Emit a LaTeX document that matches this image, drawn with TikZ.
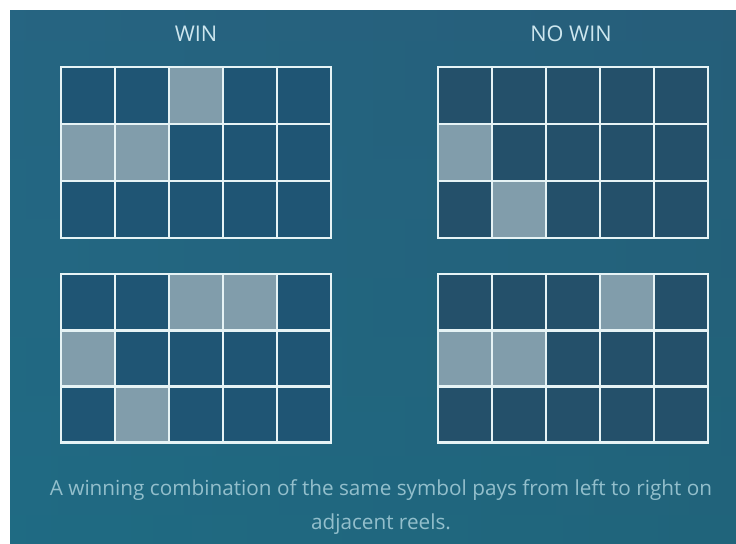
\documentclass[tikz,border=0pt]{standalone}
\usepackage{fontspec}
\setmainfont{Open Sans}
\usetikzlibrary{positioning}
\definecolor{meer}{HTML}{266582}
\definecolor{meerd}{HTML}{284E67}
\definecolor{meert}{HTML}{1D6E84}
\definecolor{zelle}{HTML}{1F5574}
\definecolor{zelleg}{HTML}{24506A}
\definecolor{treffer}{HTML}{819DAB}
\definecolor{rahmen}{HTML}{E6F3F5}
\definecolor{titel}{HTML}{CDE6EE}
\definecolor{hinweis}{HTML}{93BFCC}
\tikzset{
  gitter/.style={draw=rahmen,line width=2.5pt},
  titel/.style={text=titel,font=\fontsize{18.5}{20}\selectfont},
  hinweis/.style={text=hinweis,font=\fontsize{17.7}{29.5}\selectfont,align=center},
}

\begin{document}
\begin{tikzpicture}[x=0.03cm,y=-0.03cm]
  \useasboundingbox (0,0) rectangle (736,544);
  \fill[white] (0,0) rectangle (736,544);
  % --- Hintergrund ---
  \shade[top color=meer,middle color=meerd,bottom color=meert] (10,11) rectangle (736,544);
  \shade[left color=meer,right color=meerd,opacity=0.3] (10,11) rectangle (736,544);
  % --- Walzen: x / y / Zeilenhoehe / Farbe / Treffer ---
  \foreach \gx/\gy/\gh/\fz/\hits in {61/67/57/zelle/{2/0,0/1,1/1},
                                    438/67/57/zelleg/{0/1,1/2},
                                    61/274/56.3/zelle/{2/0,3/0,0/1,1/2},
                                    438/274/56.3/zelleg/{3/0,0/1,1/1}}{
    \fill[\fz] (\gx,\gy) rectangle ++(270,{3*\gh});
    \foreach \c/\r in \hits
      \fill[treffer] ({\gx+54*\c},{\gy+\gh*\r}) rectangle ++(54,\gh);
    \foreach \i in {1,...,4}
      \draw[gitter] ({\gx+54*\i},\gy) -- ++(0,{3*\gh});
    \foreach \j in {1,2}
      \draw[gitter] (\gx,{\gy+\gh*\j}) -- ++(270,0);
    \draw[gitter] (\gx,\gy) rectangle ++(270,{3*\gh});
  }
  % --- Texte ---
  \node[titel] (win) at (196,34) {WIN};
  \node[titel] (nowin) at (571,34) {NO WIN};
  \node[hinweis] (info) at (381,507) {A winning combination of the same symbol pays from left to right on\\adjacent reels.};
\end{tikzpicture}
\end{document}
